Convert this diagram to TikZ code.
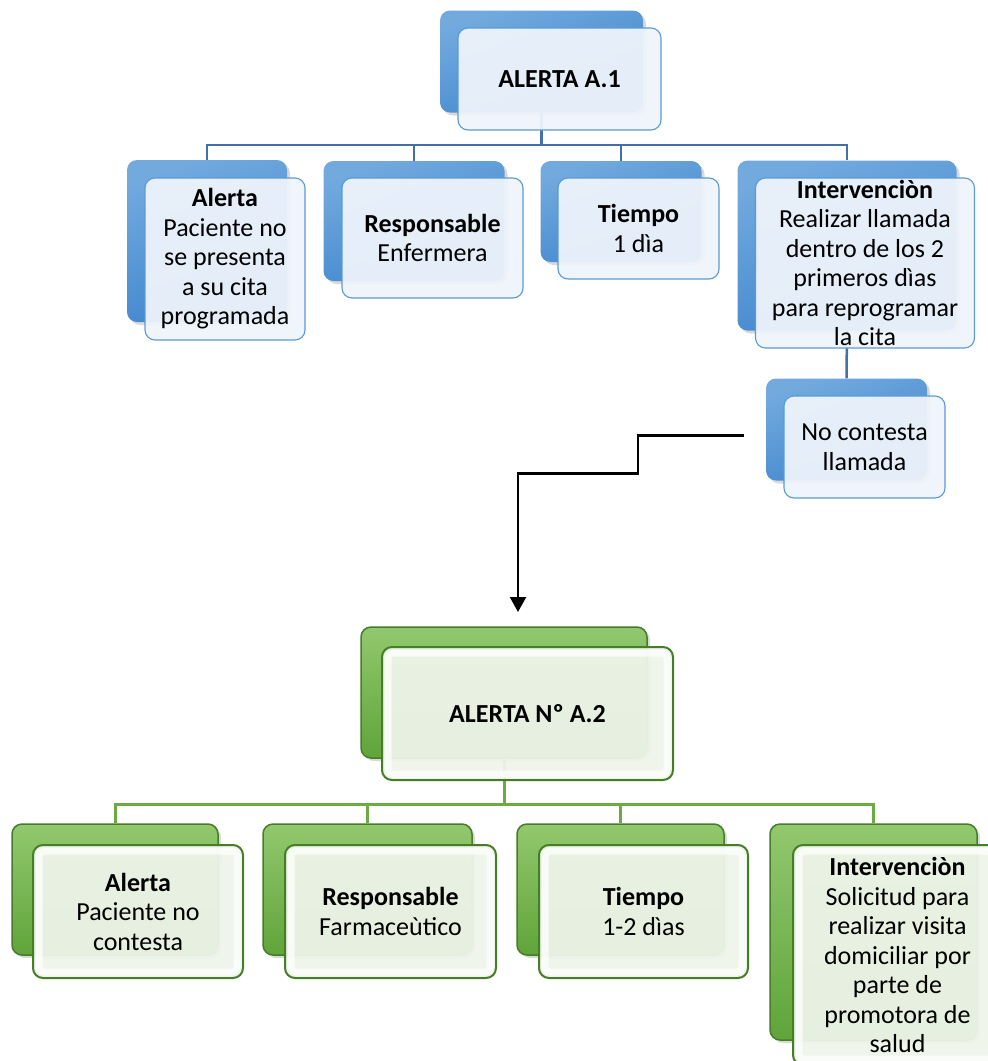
\documentclass[tikz,border=0pt]{standalone}
\usepackage{fontspec}
\setmainfont{Carlito}
\usepackage{tikz}
\usetikzlibrary{arrows.meta,backgrounds,shadows}

\definecolor{blueline}{RGB}{65,113,168}
\definecolor{bluetop}{RGB}{114,170,222}
\definecolor{bluebot}{RGB}{62,132,204}
\definecolor{bluefill}{RGB}{238,244,251}
\definecolor{blueedge}{RGB}{91,155,213}
\definecolor{greentop}{RGB}{146,200,110}
\definecolor{greenbot}{RGB}{96,164,58}
\definecolor{greenedge}{RGB}{70,125,40}
\definecolor{greenfill}{RGB}{238,244,233}
\definecolor{greenline}{RGB}{108,170,66}

\tikzset{
	card/.style={rounded corners=10pt, inner sep=0pt, align=center, font=\fontsize{26}{29.5}\selectfont},
	blueback/.style={card, top color=bluetop, bottom color=bluebot, shading angle=20,
		drop shadow={opacity=0.3, shadow xshift=3pt, shadow yshift=-3pt}},
	bluefront/.style={card, draw=blueedge, line width=1.1pt, fill=bluefill, fill opacity=0.95, text opacity=1},
	greenback/.style={card, draw=greenedge, line width=1.5pt, top color=greentop, bottom color=greenbot,
		drop shadow={opacity=0.3, shadow xshift=3pt, shadow yshift=-3pt}},
	greenfront/.style={card, draw=greenedge, line width=2pt, fill=greenfill, fill opacity=0.95, text opacity=1,
		path picture={\draw[white, line width=7pt, opacity=0.75, rounded corners=5pt]
			([shift={(6pt,6pt)}]path picture bounding box.south west) rectangle
			([shift={(-6pt,-6pt)}]path picture bounding box.north east);}},
	bluelink/.style={draw=blueline, line width=2.5pt},
	greenlink/.style={draw=greenline, line width=3pt},
	flowarrow/.style={draw=black, line width=2.2pt, -{Triangle[width=16pt,length=15pt]}},
}

\begin{document}
\begin{tikzpicture}[x=1pt, y=-1pt]
\useasboundingbox (0,0) rectangle (988,1061);

% first alert
\node[blueback, minimum width=203pt, minimum height=102pt] (root1back) at (541.5,61.5) {};
\node[bluefront, minimum width=203pt, minimum height=102pt] (root1) at (559.5,79) {\textbf{ALERTA A.1}};

\node[blueback, minimum width=160pt, minimum height=162pt] (alert1back) at (207,241) {};
\node[bluefront, minimum width=160pt, minimum height=162pt] (alert1) at (225,259)
	{\textbf{Alerta}\\Paciente no\\se presenta\\a su cita\\programada};

\node[blueback, minimum width=181pt, minimum height=120pt] (resp1back) at (414,221) {};
\node[bluefront, minimum width=181pt, minimum height=120pt] (resp1) at (432.5,238)
	{\textbf{Responsable}\\Enfermera};

\node[blueback, minimum width=161pt, minimum height=101pt] (time1back) at (621,211.5) {};
\node[bluefront, minimum width=161pt, minimum height=101pt] (time1) at (638.5,228.5)
	{\textbf{Tiempo}\\1 dìa};

\node[blueback, minimum width=219pt, minimum height=170pt] (int1back) at (847,245.5) {};
\node[bluefront, minimum width=219pt, minimum height=170pt] (int1) at (865,263)
	{\textbf{Intervenciòn}\\Realizar llamada\\dentro de los 2\\primeros dìas\\para reprogramar\\la cita};

\node[blueback, minimum width=161pt, minimum height=102pt] (nocallback) at (846.5,429.5) {};
\node[bluefront, minimum width=161pt, minimum height=102pt] (nocall) at (864.5,447)
	{No contesta\\llamada};

% second alert
\node[greenback, minimum width=286pt, minimum height=131pt] (root2back) at (504,692.5) {};
\node[greenfront, minimum width=291pt, minimum height=133pt] (root2) at (527.5,713.5) {\textbf{ALERTA Nº A.2}};

\node[greenback, minimum width=206pt, minimum height=131pt] (alert2back) at (115,889.5) {};
\node[greenfront, minimum width=210pt, minimum height=133pt] (alert2) at (138,911.5)
	{\textbf{Alerta}\\Paciente no\\contesta};

\node[greenback, minimum width=209pt, minimum height=131pt] (resp2back) at (367.5,889.5) {};
\node[greenfront, minimum width=211pt, minimum height=133pt] (resp2) at (390.5,911.5)
	{\textbf{Responsable}\\Farmaceùtico};

\node[greenback, minimum width=207pt, minimum height=131pt] (time2back) at (620.5,889.5) {};
\node[greenfront, minimum width=209pt, minimum height=133pt] (time2) at (643.5,911.5)
	{\textbf{Tiempo}\\1-2 dìas};

\node[greenback, minimum width=207pt, minimum height=216pt] (int2back) at (873.5,932) {};
\node[greenfront, minimum width=209pt, minimum height=220pt] (int2) at (897.5,955)
	{\textbf{Intervenciòn}\\Solicitud para\\realizar visita\\domiciliar por\\parte de\\promotora de\\salud};

\coordinate (bus1) at (541.5,145);
\coordinate (bus2) at (504,804);
\coordinate (drop) at (518,612);

\begin{scope}[on background layer]
\foreach \c in {alert1back,resp1back,time1back,int1back}
	\draw[bluelink] (root1back.south) -- (bus1) -| (\c.north);
\draw[bluelink] (int1back.south) -- (nocallback.north);
\foreach \c in {alert2back,resp2back,time2back,int2back}
	\draw[greenlink] (root2back.south) -- (bus2) -| (\c.north);
\end{scope}

\draw[flowarrow, shorten <=22pt] ([yshift=-6pt]nocallback.west) -- ++(-128,0) -- ++(0,38) -| (drop);
\end{tikzpicture}
\end{document}
